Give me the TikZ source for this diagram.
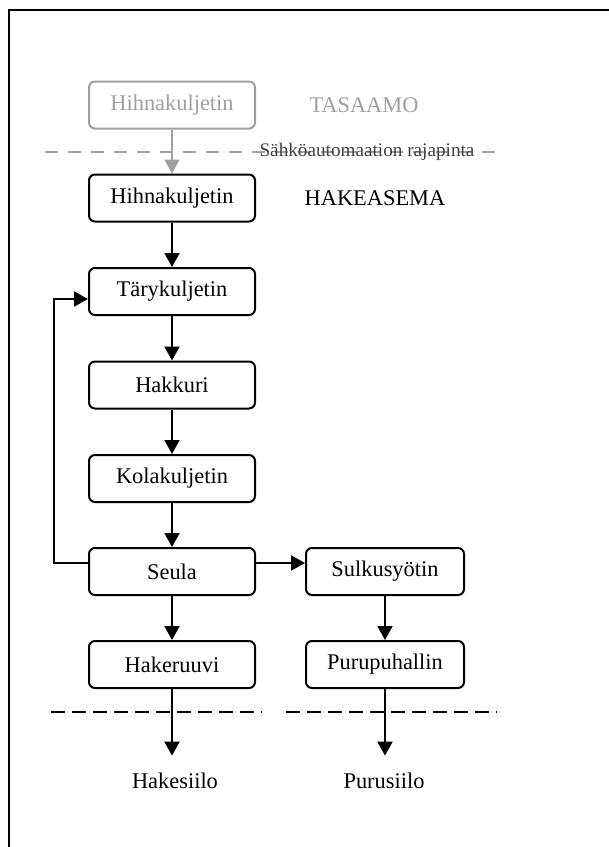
\documentclass[tikz,border=0pt]{standalone}
\usepackage{fontspec}
\setmainfont{Liberation Serif}
\usetikzlibrary{arrows.meta}

\definecolor{harmaa}{HTML}{A0A0A0}
\definecolor{tumma}{HTML}{404040}

\tikzset{
    laite/.style={draw, rounded corners=3pt, line width=1pt, minimum width=83pt, minimum height=23.5pt, font=\fontsize{11.2}{13}\selectfont},
    siilo/.style={inner sep=8.25pt, font=\fontsize{11.2}{13}\selectfont},
    alue/.style={font=\fontsize{11.2}{13}\selectfont},
    raja/.style={dashed, dash pattern=on 7pt off 3.5pt, line width=0.9pt}
}

\begin{document}
\begin{tikzpicture}[x=0.5pt, y=-0.5pt, >={Triangle[length=7pt,width=7.5pt]}, line width=1pt]

        \useasboundingbox (0,0) rectangle (609,847);

        % Kehys
        \draw[line width=1.2pt] (9,847) -- (9,10) -- (609,10);

        % Tasaamo
        \node[laite, draw=harmaa, text=harmaa] at (172,105) (tasaamokulj) {Hihnakuljetin};
        \node[alue, text=harmaa] at (364,105) (tasaamo) {TASAAMO};

        % Rajapinta
        \coordinate (rajaA) at (45,152);
        \coordinate (rajaB) at (505,152);
        \draw[raja, harmaa, dash pattern=on 6.5pt off 5pt] (rajaA) -- (rajaB);
        \node[text=tumma, font=\fontsize{9.6}{11}\selectfont, inner sep=0pt] at (367,152) (rajapinta) {Sähköautomaation rajapinta};

        % Vasen sarake
        \node[laite] at (172,198) (hihna) {Hihnakuljetin};
        \node[alue] at (375,198) (hakeasema) {HAKEASEMA};
        \node[laite] at (172,291.5) (tary) {Tärykuljetin};
        \node[laite] at (172,385) (hakkuri) {Hakkuri};
        \node[laite] at (172,478.5) (kola) {Kolakuljetin};
        \node[laite] at (172,571.5) (seula) {Seula};
        \node[laite] at (172,664.5) (hakeruuvi) {Hakeruuvi};
        \node[siilo] at (175,781) (hakesiilo) {Hakesiilo};

        % Oikea sarake
        \node[laite, minimum width=79pt] at (385,571.5) (sulku) {Sulkusyötin};
        \node[laite, minimum width=79pt] at (385,664.5) (puru) {Purupuhallin};
        \node[siilo] at (384,781) (purusiilo) {Purusiilo};

        % Nuolet
        \draw[->, harmaa] (tasaamokulj) -- (hihna);
        \draw[->] (hihna) -- (tary);
        \draw[->] (tary) -- (hakkuri);
        \draw[->] (hakkuri) -- (kola);
        \draw[->] (kola) -- (seula);
        \draw[->] (seula) -- (hakeruuvi);
        \draw[->] (hakeruuvi) -- (hakeruuvi |- hakesiilo.north);
        \draw[->] ([yshift=4.25pt]seula.east) -- ([yshift=4.25pt]sulku.west);
        \draw[->] (sulku) -- (puru);
        \draw[->] (puru) -- (puru |- purusiilo.north);

        % Paluu seulalta
        \draw[->] ([yshift=4.25pt]seula.west) -| (54,299) -- ([yshift=-3.75pt]tary.west);

        % Rajat siiloille
        \coordinate (rajaC) at (51,712);
        \coordinate (rajaD) at (262,712);
        \coordinate (rajaE) at (286,712);
        \coordinate (rajaF) at (497,712);
        \draw[raja] (rajaC) -- (rajaD);
        \draw[raja] (rajaE) -- (rajaF);

    \end{tikzpicture}
\end{document}
